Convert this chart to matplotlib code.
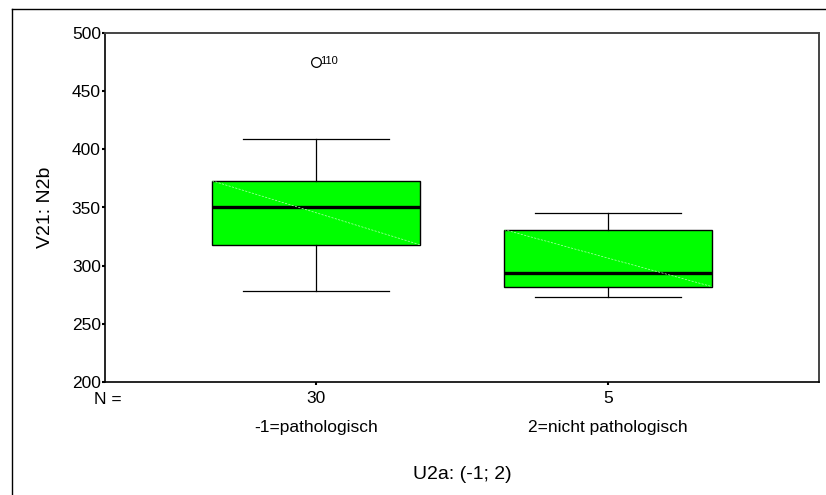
import matplotlib
matplotlib.use("Agg")
import matplotlib.pyplot as plt
from matplotlib.lines import Line2D

plt.rcParams['font.family'] = ['Liberation Sans', 'DejaVu Sans']

groups = ["-1=pathologisch", "2=nicht pathologisch"]
counts = [30, 5]
whislo = [278, 273]
q1 = [318, 282]
medians = [350, 294]
q3 = [373, 331]
whishi = [409, 345]
outliers = [[475], []]
outlier_ids = [["110"], []]

stats = []
for i in range(len(groups)):
    stats.append({
        "whislo": whislo[i], "q1": q1[i], "med": medians[i],
        "q3": q3[i], "whishi": whishi[i], "fliers": outliers[i],
    })

fig = plt.figure(figsize=(8.26, 4.95), dpi=100)
ax = fig.add_axes([105 / 826, 1 - 382 / 495, 714 / 826, 349 / 495])

pos = [1, 2]
bw = 0.712
ax.bxp(stats, positions=pos, widths=bw, patch_artist=True, showfliers=True,
       boxprops=dict(facecolor="#00ff00", edgecolor="black", linewidth=1.0),
       medianprops=dict(color="black", linewidth=2.4),
       whiskerprops=dict(color="black", linewidth=0.9),
       capprops=dict(color="black", linewidth=0.9),
       capwidths=0.5,
       flierprops=dict(marker="o", markerfacecolor="none", markeredgecolor="black",
                       markersize=7, markeredgewidth=0.9))

# faint diagonal line across each box
for p, lo, hi in zip(pos, q1, q3):
    ax.plot([p - bw / 2, p + bw / 2], [hi, lo], color="#b8ffb8", lw=0.5,
            ls=(0, (3, 2)), zorder=3)

# case numbers next to outliers
for p, ys, ids in zip(pos, outliers, outlier_ids):
    for y, t in zip(ys, ids):
        ax.annotate(t, (p, y), xytext=(3, 0.5), textcoords="offset points",
                    fontsize=8, va="center", ha="left")

ax.set_xlim(0.2775, 2.7225)
ax.set_ylim(200, 500)
ax.set_yticks([200, 250, 300, 350, 400, 450, 500])
ax.tick_params(axis="y", length=2, width=1.5, pad=1, labelsize=12.5)
ax.set_xticks(pos)
ax.set_xticklabels([str(c) for c in counts])
ax.tick_params(axis="x", length=2, width=1.5, pad=4.5, labelsize=12.5)

for s in ["left", "bottom"]:
    ax.spines[s].set_color("black")
    ax.spines[s].set_linewidth(1.2)
for s in ["top", "right"]:
    ax.spines[s].set_color("#444444")
    ax.spines[s].set_linewidth(1.4)

ax.text(-0.0154, -0.049, "N =", transform=ax.transAxes, ha="left", va="center",
        fontsize=12.5)
for p, g in zip(pos, groups):
    ax.text(p, -0.129, g, transform=ax.get_xaxis_transform(), ha="center",
            va="center", fontsize=12.5)

ax.text(0.5, -0.266, "U2a: (-1; 2)", transform=ax.transAxes, ha="center",
        va="center", fontsize=14)
ax.text(-0.084, 0.5, "V21: N2b", transform=ax.transAxes, ha="center",
        va="center", rotation=90, fontsize=14)

# outer frame
fig.add_artist(Line2D([12 / 826, 12 / 826], [0, 1 - 9 / 495], color="black",
                      lw=1.0, transform=fig.transFigure))
fig.add_artist(Line2D([12 / 826, 1], [1 - 9 / 495, 1 - 9 / 495], color="black",
                      lw=1.0, transform=fig.transFigure))

fig.savefig("out.png", dpi=100)
